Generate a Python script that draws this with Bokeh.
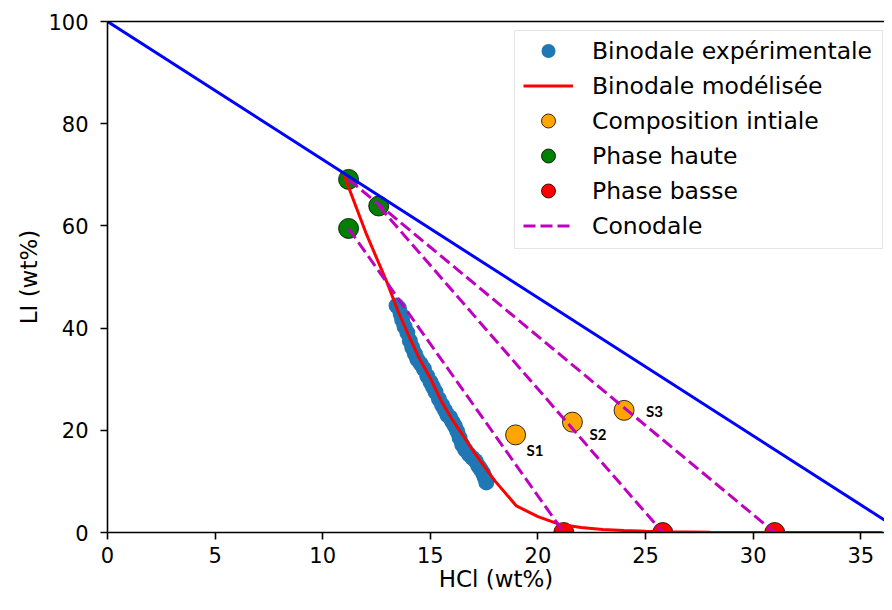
from bokeh.plotting import figure
from bokeh.models import Range1d, LinearAxis, FixedTicker, Legend, LegendItem, ColumnDataSource
from bokeh.core.properties import value
from bokeh.embed import file_html
from bokeh.resources import INLINE

# ---------------- data ----------------
exp_hcl = [13.43, 13.54, 13.62, 13.69, 13.80, 13.93, 14.05, 14.16, 14.28, 14.39, 14.55, 14.70,
           14.86, 15.01, 15.12, 15.24, 15.40, 15.55, 15.68, 15.79, 15.92, 16.02, 16.14, 16.25,
           16.36, 16.48, 16.62, 16.79, 16.95, 17.10, 17.22, 17.33, 17.45, 17.52, 17.60]
exp_li = [44.4, 43.9, 42.8, 41.6, 40.3, 39.1, 37.5, 36.2, 35.0, 33.9, 33.0, 32.0,
          30.6, 29.4, 28.5, 27.5, 26.1, 24.9, 23.9, 23.0, 22.5, 21.7, 20.8, 19.8,
          18.5, 17.2, 16.2, 15.3, 14.6, 14.0, 13.1, 12.4, 11.6, 10.8, 9.8]

model_hcl = [11.0, 12.0, 13.0, 13.5, 14.0, 14.5, 15.0, 15.5, 16.0, 16.5, 17.0, 17.5, 18.0,
             19.0, 20.0, 21.0, 22.0, 23.0, 24.0, 25.0, 26.0, 28.0, 30.0, 32.0, 34.0, 36.0]
model_li = [69.8, 58.7, 48.8, 43.3, 38.5, 34.0, 30.2, 25.8, 22.2, 19.1, 15.9, 13.0, 10.1,
            5.2, 3.1, 1.6, 1.0, 0.6, 0.4, 0.25, 0.15, 0.05, 0.02, 0.0, 0.0, 0.0]

init_hcl = [18.96, 21.6, 24.0]
init_li = [19.1, 21.6, 23.9]
init_names = ["S1", "S2", "S3"]

top_hcl = [11.2, 12.6, 11.2]
top_li = [59.5, 63.9, 69.1]

bot_hcl = [21.2, 25.8, 31.0]
bot_li = [0.0, 0.0, 0.0]

limit_hcl = [0.0, 37.0]
limit_li = [100.0, 0.0]

x_ticks = [0, 5, 10, 15, 20, 25, 30, 35]
y_ticks = [0, 20, 40, 60, 80, 100]

# label offsets (screen px), style only
label_dx = [11, 17, 22]
label_dy = [15, 12, 1]

FONT = "DejaVu Sans"

p = figure(width=884, height=594, output_backend="svg", toolbar_location=None,
           x_range=Range1d(0, 36.1), y_range=Range1d(0, 100),
           min_border_left=107, min_border_right=0, min_border_top=21, min_border_bottom=61)
p.outline_line_color = None
p.xgrid.visible = False
p.ygrid.visible = False
p.background_fill_color = "white"

for ax, ticks in ((p.xaxis[0], x_ticks), (p.yaxis[0], y_ticks)):
    ax.ticker = FixedTicker(ticks=ticks)
    ax.minor_tick_line_color = None
    ax.major_tick_in = 0
    ax.major_tick_out = 7
    ax.major_tick_line_width = 1.6
    ax.axis_line_width = 1.6
    ax.major_label_text_font = FONT
    ax.major_label_text_font_size = "21px"
    ax.major_label_text_color = "black"
    ax.axis_label_text_font = FONT
    ax.axis_label_text_font_size = "23px"
    ax.axis_label_text_font_style = "normal"
    ax.axis_label_text_color = "black"

p.xaxis.axis_label = "HCl (wt%)"
p.yaxis.axis_label = "LI (wt%)"
p.xaxis.major_label_standoff = 7
p.xaxis.axis_label_standoff = 0
p.yaxis.major_label_standoff = 12
p.yaxis.axis_label_standoff = 3

top_ax = LinearAxis(ticker=FixedTicker(ticks=[]), major_tick_out=0, major_tick_in=0,
                    minor_tick_out=0, major_label_text_font_size="0px", axis_line_width=1.6)
p.add_layout(top_ax, "above")

# markers
r_exp = p.scatter(exp_hcl, exp_li, size=16, fill_color="#1f77b4", line_color=None)
r_init = p.scatter(init_hcl, init_li, size=20, fill_color="orange", line_color="black", line_width=0.8)
r_top = p.scatter(top_hcl, top_li, size=20, fill_color="green", line_color="black", line_width=0.8)
r_bot = p.scatter(bot_hcl, bot_li, size=20, fill_color="red", line_color="black", line_width=0.8)

# lines
r_model = p.line(model_hcl, model_li, line_color="red", line_width=3)
r_cono = p.multi_line(xs=[[a, b] for a, b in zip(top_hcl, bot_hcl)],
                      ys=[[a, b] for a, b in zip(top_li, bot_li)],
                      line_color="#bf00bf", line_width=3, line_dash="12 5")
p.line(limit_hcl, limit_li, line_color="blue", line_width=3)

src = ColumnDataSource(dict(x=init_hcl, y=init_li, t=init_names, dx=label_dx, dy=label_dy))
p.text(x="x", y="y", text="t", x_offset="dx", y_offset="dy", source=src,
       text_font=value("Lato"), text_font_style="bold", text_font_size="15px",
       text_align="left", text_baseline="middle", text_color="black")

legend = Legend(items=[
    LegendItem(label="Binodale expérimentale", renderers=[r_exp]),
    LegendItem(label="Binodale modélisée", renderers=[r_model]),
    LegendItem(label="Composition intiale", renderers=[r_init]),
    LegendItem(label="Phase haute", renderers=[r_top]),
    LegendItem(label="Phase basse", renderers=[r_bot]),
    LegendItem(label="Conodale", renderers=[r_cono]),
], location=(407, 283))
legend.label_text_font = FONT
legend.label_text_font_size = "23.5px"
legend.label_text_color = "black"
legend.glyph_width = 50
legend.glyph_height = 35
legend.label_height = 35
legend.label_width = 290
legend.label_standoff = 19
legend.spacing = 0
legend.padding = dict(left=8, right=0, top=2, bottom=5)
legend.margin = 0
legend.border_line_color = "#cccccc"
legend.border_line_width = 1
legend.background_fill_alpha = 0.8
p.add_layout(legend)

open("out.html", "w").write(file_html(p, INLINE))
